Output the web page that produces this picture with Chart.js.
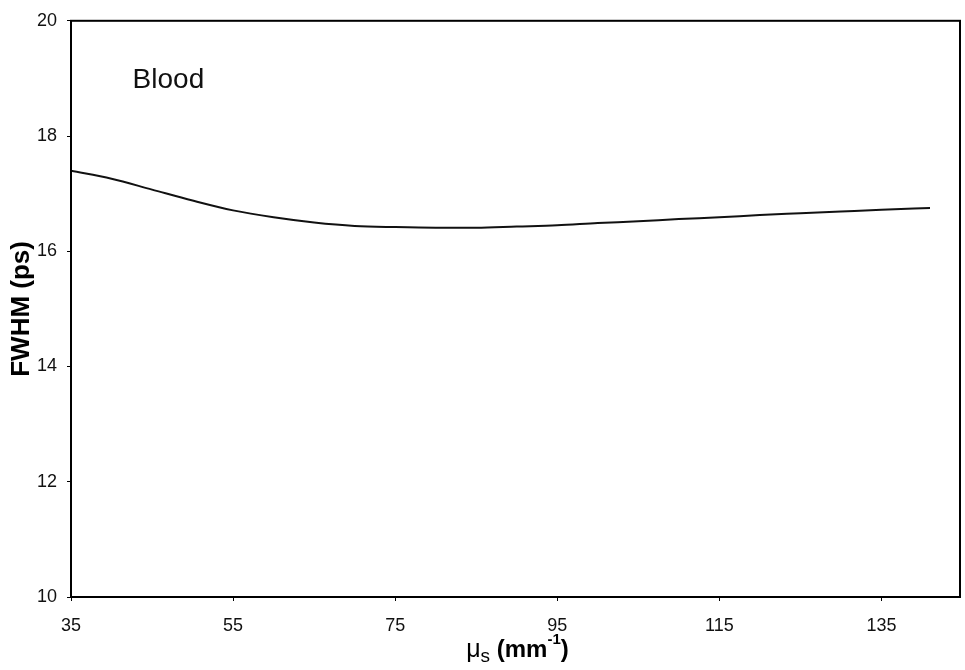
<!DOCTYPE html>
<html>
<head>
<meta charset="utf-8">
<script src="https://cdn.jsdelivr.net/npm/chart.js@4/dist/chart.umd.min.js"></script>
<style>
  html, body { margin: 0; padding: 0; background: #fff; }
  canvas { display: block; }
</style>
</head>
<body>
<canvas id="fwhmChart" width="965" height="670"></canvas>
<script>
// scattering coefficient (mm^-1) and FWHM (ps)
const muS = [35, 40, 45, 50, 55, 60, 65, 70, 75, 80, 85, 90, 95, 100, 105, 110, 115, 120, 125, 130, 135, 141];
const fwhm = [17.40, 17.26, 17.07, 16.88, 16.71, 16.59, 16.50, 16.44, 16.42, 16.41, 16.41, 16.43, 16.45, 16.49, 16.52, 16.56, 16.59, 16.63, 16.66, 16.69, 16.72, 16.75];
const xTicks = [35, 55, 75, 95, 115, 135];
const yTicks = [10, 12, 14, 16, 18, 20];
const sampleLabel = "Blood";

const FONT = "'Liberation Sans', Arial, sans-serif";

// frame round the plot area + the "Blood" label
const framePlugin = {
    id: "frame",
    afterDraw(chart) {
        const { ctx, chartArea, scales } = chart;
        ctx.save();
        ctx.strokeStyle = "#000";
        ctx.lineWidth = 2;
        ctx.strokeRect(chartArea.left, chartArea.top, chartArea.right - chartArea.left, chartArea.bottom - chartArea.top);

        ctx.fillStyle = "#111";
        ctx.font = "28px " + FONT;
        ctx.textAlign = "left";
        ctx.textBaseline = "alphabetic";
        ctx.fillText(sampleLabel, scales.x.getPixelForValue(42.6), scales.y.getPixelForValue(18.84));
        ctx.restore();
    }
};

// x axis title with subscript / superscript
const xTitlePlugin = {
    id: "xTitle",
    afterDraw(chart) {
        const { ctx, chartArea } = chart;
        const parts = [
            { t: "\u03BC", font: "25px " + FONT, dy: 0 },
            { t: "s", font: "19px " + FONT, dy: 5 },
            { t: " (mm", font: "bold 24px " + FONT, dy: 0 },
            { t: "-1", font: "bold 15px " + FONT, dy: -13 },
            { t: ")", font: "bold 24px " + FONT, dy: 0 }
        ];
        ctx.save();
        ctx.fillStyle = "#000";
        ctx.textBaseline = "alphabetic";
        ctx.textAlign = "left";
        let total = 0;
        parts.forEach(p => { ctx.font = p.font; p.w = ctx.measureText(p.t).width; total += p.w; });
        let x = (chartArea.left + chartArea.right) / 2 - total / 2 + 2;
        const base = chartArea.bottom + 60;
        parts.forEach(p => {
            ctx.font = p.font;
            ctx.fillText(p.t, x, base + p.dy);
            x += p.w;
        });
        ctx.restore();
    }
};

const ctx = document.getElementById("fwhmChart").getContext("2d");

new Chart(ctx, {
    type: "line",
    data: {
        datasets: [{
            data: muS.map((v, i) => ({ x: v, y: fwhm[i] })),
            borderColor: "#111",
            borderWidth: 2,
            pointRadius: 0,
            fill: false,
            cubicInterpolationMode: "monotone"
        }]
    },
    options: {
        responsive: false,
        animation: false,
        layout: { padding: { left: 0, right: 5, top: 19, bottom: 0 } },
        plugins: {
            legend: { display: false },
            tooltip: { enabled: false }
        },
        scales: {
            x: {
                type: "linear",
                min: 35,
                max: 144.7,
                afterBuildTicks: scale => { scale.ticks = xTicks.map(v => ({ value: v })); },
                afterFit: scale => { scale.height = 73; },
                border: { display: false },
                grid: { drawOnChartArea: false, color: "#000", tickLength: 4 },
                ticks: {
                    color: "#111",
                    padding: 14,
                    maxRotation: 0,
                    font: { family: FONT, size: 18 }
                },
                title: { display: false }
            },
            y: {
                min: 10,
                max: 20,
                afterBuildTicks: scale => { scale.ticks = yTicks.map(v => ({ value: v })); },
                afterFit: scale => { scale.width = 71; },
                border: { display: false },
                grid: { drawOnChartArea: false, color: "#000", tickLength: 4 },
                ticks: {
                    color: "#111",
                    padding: 10,
                    font: { family: FONT, size: 18 }
                },
                title: {
                    display: true,
                    text: "FWHM (ps)",
                    color: "#000",
                    padding: { top: 6, bottom: 0 },
                    font: { family: FONT, size: 26, weight: "bold" }
                }
            }
        }
    },
    plugins: [framePlugin, xTitlePlugin]
});
</script>
</body>
</html>
